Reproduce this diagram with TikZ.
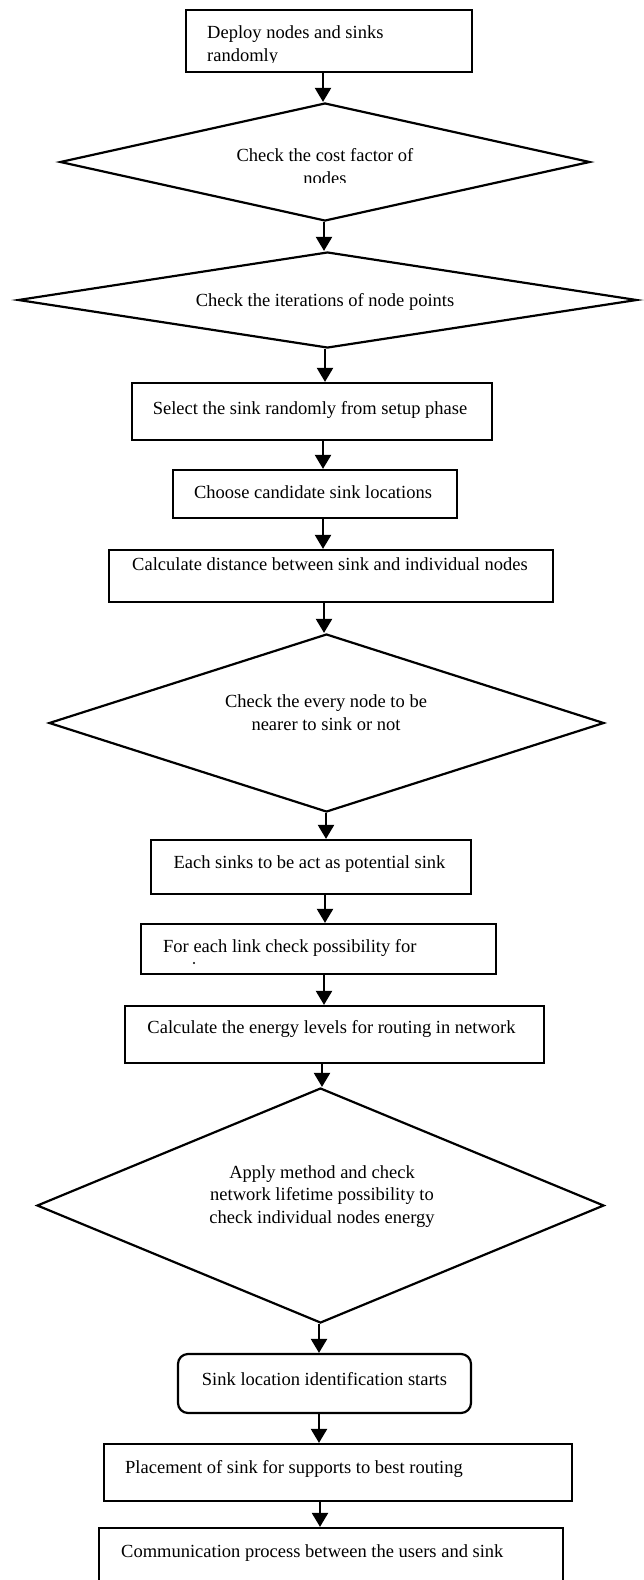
\documentclass[tikz,border=0pt]{standalone}
\usepackage{fontspec}
\setmainfont{Liberation Serif}
\usetikzlibrary{arrows.meta,shapes.geometric}
\begin{document}
\begin{tikzpicture}[x=1pt,y=-1pt,
  box/.style={draw,line width=2.2pt,rectangle,inner sep=0pt},
  rbox/.style={box,rounded corners=10pt},
  dia/.style={draw,line width=2.2pt,diamond,inner sep=0pt},
  lbl/.style={inner sep=0pt,anchor=base,font=\fontsize{18.5}{23}\selectfont},
  lbll/.style={lbl,anchor=base west},
  arr/.style={line width=2.2pt,-{Triangle[width=16pt,length=14pt]}}]
\useasboundingbox (0,0) rectangle (644,1580);
\clip (0,0) rectangle (644,1580);
% shapes
\node[box,minimum width=286pt,minimum height=62pt] (b1) at (329,41) {};
\node[dia,minimum width=530pt,minimum height=118pt] (d1) at (325,162) {};
\node[dia,minimum width=619pt,minimum height=96pt] (d2) at (327.5,300) {};
\node[box,minimum width=360pt,minimum height=57pt] (b3) at (312,411.5) {};
\node[box,minimum width=284pt,minimum height=48pt] (b4) at (315,494) {};
\node[box,minimum width=444pt,minimum height=52pt] (b5) at (331,576) {};
\node[dia,minimum width=555pt,minimum height=178pt] (d3) at (326.5,723) {};
\node[box,minimum width=320pt,minimum height=54pt] (b6) at (311,867) {};
\node[box,minimum width=355pt,minimum height=50pt] (b7) at (318.5,949) {};
\node[box,minimum width=419pt,minimum height=57pt] (b8) at (334.5,1034.5) {};
\node[dia,minimum width=567pt,minimum height=235pt] (d4) at (320.5,1205.5) {};
\node[rbox,minimum width=293pt,minimum height=59pt] (r9) at (324.5,1383.5) {};
\node[box,minimum width=468pt,minimum height=57pt] (b10) at (338,1472.5) {};
\node[box,minimum width=464pt,minimum height=72pt] (b11) at (331,1564) {};
% texts
\node[lbll] (t1a) at (207,38) {Deploy nodes and sinks};
\begin{scope}
\clip (186,10) rectangle (472,62.5);
\node[lbll] (t1b) at (207,61) {randomly};
\end{scope}
\node[lbl] (t2a) at (325,161) {Check the cost factor of};
\begin{scope}
\clip (60,100) rectangle (590,182.5);
\node[lbl] (t2b) at (325,184) {nodes};
\end{scope}
\node[lbl] (t3) at (325,306) {Check the iterations of node points};
\node[lbl] (t4) at (310,414) {Select the sink randomly from setup phase};
\node[lbl] (t5) at (313,498) {Choose candidate sink locations};
\node[lbl] (t6) at (330,570) {Calculate distance between sink and individual nodes};
\node[lbl] (t7a) at (326,707) {Check the every node to be};
\node[lbl] (t7b) at (326,730) {nearer to sink or not};
\node[lbl] (t8) at (309.5,868) {Each sinks to be act as potential sink};
\node[lbll] (t9) at (163,952) {For each link check possibility for};
\fill (194,963) circle (1.2pt);
\node[lbl] (t10) at (331.5,1033) {Calculate the energy levels for routing in network};
\node[lbl] (t11a) at (322,1178) {Apply method and check};
\node[lbl] (t11b) at (322,1200) {network lifetime possibility to};
\node[lbl] (t11c) at (322,1223) {check individual nodes energy};
\node[lbl] (t12) at (324.5,1385) {Sink location identification starts};
\node[lbll] (t13) at (125,1473) {Placement of sink for supports to best routing};
\node[lbll] (t14) at (121,1557) {Communication process between the users and sink};
% spine coordinates
\coordinate (xa) at (323,0);
\coordinate (xb) at (324,0);
\coordinate (xc) at (325,0);
\coordinate (xd) at (326,0);
\coordinate (xe) at (322,0);
\coordinate (xf) at (319,0);
\coordinate (xg) at (320,0);
% arrows
\draw[arr] (b1.south -| xa) -- (d1.north -| xa);
\draw[arr] (d1.south -| xb) -- (d2.north -| xb);
\draw[arr] (d2.south -| xc) -- (b3.north -| xc);
\draw[arr] (b3.south -| xa) -- (b4.north -| xa);
\draw[arr] (b4.south -| xa) -- (b5.north -| xa);
\draw[arr] (b5.south -| xb) -- (d3.north -| xb);
\draw[arr] (d3.south -| xd) -- (b6.north -| xd);
\draw[arr] (b6.south -| xc) -- (b7.north -| xc);
\draw[arr] (b7.south -| xb) -- (b8.north -| xb);
\draw[arr] (b8.south -| xe) -- (d4.north -| xe);
\draw[arr] (d4.south -| xf) -- (r9.north -| xf);
\draw[arr] (r9.south -| xf) -- (b10.north -| xf);
\draw[arr] (b10.south -| xg) -- (b11.north -| xg);
\end{tikzpicture}
\end{document}
